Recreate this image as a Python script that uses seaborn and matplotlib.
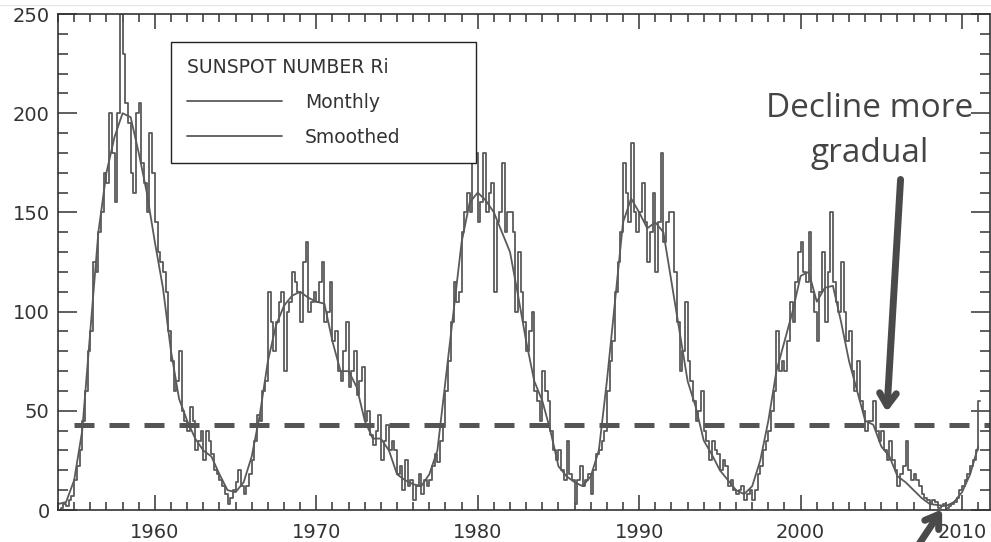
import numpy as np
import matplotlib.pyplot as plt
import seaborn as sns
from matplotlib.lines import Line2D
from matplotlib.ticker import MultipleLocator

# Sunspot number Ri
start_year = 1954

# monthly series, one reading every two months (1954 .. early 2011)
monthly_ri = [
    0, 1, 3, 2, 5, 7,               # 1954
    15, 22, 30, 45, 60, 80,         # 1955
    90, 125, 120, 140, 150, 170,    # 1956
    165, 200, 180, 155, 200, 250,   # 1957
    230, 205, 195, 170, 160, 200,   # 1958
    205, 175, 165, 150, 190, 170,   # 1959
    145, 130, 125, 120, 110, 90,    # 1960
    75, 60, 65, 80, 50, 45,         # 1961
    40, 52, 45, 30, 35, 40,         # 1962
    25, 40, 35, 28, 20, 18,         # 1963
    15, 12, 8, 3, 6, 10,            # 1964
    14, 20, 12, 8, 12, 18,          # 1965
    25, 35, 48, 45, 60, 65,         # 1966
    110, 95, 80, 95, 105, 110,      # 1967
    70, 100, 105, 120, 115, 110,    # 1968
    95, 125, 135, 100, 105, 110,    # 1969
    105, 115, 125, 95, 100, 115,    # 1970
    85, 90, 70, 65, 80, 95,         # 1971
    62, 70, 80, 58, 65, 72,         # 1972
    45, 50, 38, 33, 40, 48,         # 1973
    25, 35, 43, 30, 35, 30,         # 1974
    18, 22, 10, 25, 12, 15,         # 1975
    5, 12, 18, 8, 15, 12,           # 1976
    15, 22, 28, 24, 35, 42,         # 1977
    60, 75, 95, 115, 105, 110,      # 1978
    140, 150, 160, 150, 175, 180,   # 1979
    145, 155, 180, 150, 160, 165,   # 1980
    110, 145, 150, 175, 140, 150,   # 1981
    150, 140, 100, 130, 110, 95,    # 1982
    80, 90, 100, 60, 55, 45,        # 1983
    70, 60, 55, 40, 30, 25,         # 1984
    30, 20, 15, 35, 18, 15,         # 1985
    3, 15, 22, 12, 15, 18,          # 1986
    8, 20, 28, 30, 35, 40,          # 1987
    60, 75, 85, 110, 125, 140,      # 1988
    175, 160, 145, 185, 150, 140,   # 1989
    150, 165, 145, 125, 140, 160,   # 1990
    120, 145, 180, 135, 145, 150,   # 1991
    150, 120, 95, 70, 80, 105,      # 1992
    75, 65, 55, 45, 50, 60,         # 1993
    40, 35, 25, 35, 30, 28,         # 1994
    20, 25, 22, 12, 15, 10,         # 1995
    8, 10, 12, 5, 8, 10,            # 1996
    5, 10, 18, 22, 30, 35,          # 1997
    40, 50, 60, 90, 70, 75,         # 1998
    70, 85, 105, 95, 115, 130,      # 1999
    135, 120, 115, 140, 110, 100,   # 2000
    85, 110, 130, 95, 120, 150,     # 2001
    115, 105, 100, 125, 100, 85,    # 2002
    90, 70, 60, 75, 55, 50,         # 2003
    40, 45, 45, 55, 40, 35,         # 2004
    40, 30, 25, 35, 25, 20,         # 2005
    12, 18, 22, 35, 20, 15,         # 2006
    18, 15, 12, 8, 6, 5,            # 2007
    3, 5, 4, 1, 2, 3,               # 2008
    1, 2, 3, 4, 6, 10,              # 2009
    12, 15, 18, 22, 25, 30,         # 2010
    55,                             # 2011
]

# smoothed series, one reading per half year (1954.0 .. 2011.0)
smoothed_ri = [
    3, 4, 15, 40, 90, 140, 170, 188, 200, 198,        # 1954 - 1958.5
    180, 160, 135, 112, 80, 56, 45, 36, 30, 27,       # 1959 - 1963.5
    18, 10, 9, 14, 27, 48, 75, 93, 103, 108,          # 1964 - 1968.5
    110, 107, 105, 104, 85, 70, 70, 62, 45, 36,       # 1969 - 1973.5
    36, 30, 18, 15, 13, 12, 18, 30, 65, 100,          # 1974 - 1978.5
    135, 155, 160, 156, 150, 140, 130, 108, 85, 65,   # 1979 - 1983.5
    55, 40, 22, 17, 14, 12, 17, 30, 65, 105,          # 1984 - 1988.5
    145, 157, 150, 142, 145, 140, 115, 90, 65, 52,    # 1989 - 1993.5
    35, 28, 20, 15, 10, 8, 12, 25, 45, 70,            # 1994 - 1998.5
    85, 100, 118, 120, 105, 112, 113, 95, 75, 60,     # 1999 - 2003.5
    45, 43, 32, 27, 17, 14, 10, 6, 3, 2.5,            # 2004 - 2008.5
    2, 4, 9, 18, 32,                                  # 2009 - 2011
]

threshold = 43

monthly_t = start_year + (np.arange(len(monthly_ri)) + 0.5) / 6
smoothed_t = start_year + np.arange(len(smoothed_ri)) / 2

sns.set_style('ticks')
plt.rcParams['font.family'] = ['DejaVu Sans']

ink = '#4a4a4a'
fig = plt.figure(figsize=(9.91, 5.42), dpi=100)
ax = fig.add_axes([58 / 991, 32 / 542, 932 / 991, 496 / 542])

sns.lineplot(x=monthly_t, y=monthly_ri, ax=ax, color='#5a5a5a', lw=1.3,
             drawstyle='steps-mid', estimator=None, label='Monthly')
sns.lineplot(x=smoothed_t, y=smoothed_ri, ax=ax, color='#5a5a5a', lw=1.3,
             estimator=None, label='Smoothed')

# reference level
ax.axhline(threshold, xmin=0.017, color='#555555', lw=3.6, dashes=(4, 3))

ax.set_xlim(1954.0, 2011.73)
ax.set_ylim(0, 250)
ax.xaxis.set_major_locator(MultipleLocator(10))
ax.xaxis.set_minor_locator(MultipleLocator(1))
ax.yaxis.set_major_locator(MultipleLocator(50))
ax.yaxis.set_minor_locator(MultipleLocator(10))
ax.tick_params(which='both', direction='in', top=True, right=True,
               color='#333333', width=1.1, labelsize=14, labelcolor='#333333')
ax.tick_params(axis='y', which='major', length=14, pad=6)
ax.tick_params(axis='y', which='minor', length=7)
ax.tick_params(axis='x', which='major', length=11, pad=9)
ax.tick_params(axis='x', which='minor', length=5.5)
for sp in ax.spines.values():
    sp.set_color('#333333')
    sp.set_linewidth(1.2)
ax.set_xlabel('')
ax.set_ylabel('')

leg = ax.legend(title='SUNSPOT NUMBER Ri', loc='upper left',
                bbox_to_anchor=(0.121, 0.685, 0.327, 0.259), mode='expand',
                borderaxespad=0, fontsize=13.5, title_fontsize=13.5,
                alignment='left', handlelength=5.1, handletextpad=1.2,
                labelspacing=0.85, borderpad=0.85, fancybox=False,
                framealpha=1)
leg.get_frame().set_edgecolor('#222222')
leg.get_frame().set_linewidth(1.0)
for t in leg.get_texts():
    t.set_color('#333333')
leg.get_title().set_color('#333333')

# annotations
ax.text(2004.3, 191, 'Decline more\ngradual', ha='center', va='center',
        fontsize=24, family='Open Sans', color='#444444', linespacing=1.5)
ax.annotate('', xy=(2005.33, 48), xytext=(2006.2, 168),
            arrowprops=dict(arrowstyle='->,head_length=0.9,head_width=0.6',
                            color=ink, lw=5), annotation_clip=False)
ax.annotate('', xy=(2008.86, 1.5), xytext=(2007.1, -20),
            arrowprops=dict(arrowstyle='->,head_length=0.9,head_width=0.6',
                            color=ink, lw=5), annotation_clip=False)

fig.add_artist(Line2D([0, 1], [0.991, 0.991], color='#e6e6e6', lw=1))

fig.savefig('out.png', dpi=100)
